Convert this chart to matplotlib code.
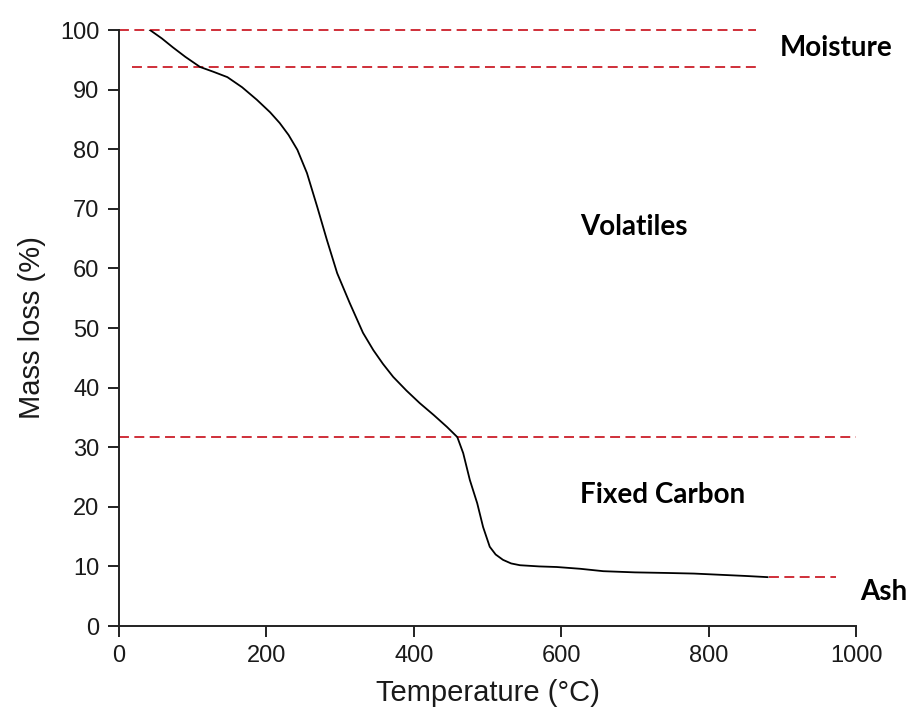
import numpy as np
import matplotlib
matplotlib.use("Agg")
import matplotlib.pyplot as plt

# TGA curve
temp = [42, 58, 73, 90, 110, 128, 147, 167, 187, 205, 218, 230, 242, 255, 269,
        282, 296, 313, 331, 345, 358, 372, 390, 408, 427, 445, 459, 467, 476,
        486, 494, 503, 511, 521, 532, 544, 570, 594, 626, 657, 700, 744, 780,
        815, 850, 880]
mass = [100, 98.6, 97.1, 95.5, 93.8, 93.0, 92.1, 90.4, 88.3, 86.2, 84.4, 82.4,
        79.9, 76.0, 70.3, 64.8, 59.2, 54.2, 49.2, 46.3, 44.0, 41.8, 39.5, 37.4,
        35.4, 33.4, 31.7, 29.0, 24.5, 20.6, 16.6, 13.3, 12.0, 11.1, 10.5, 10.2,
        10.0, 9.9, 9.6, 9.2, 9.0, 8.9, 8.8, 8.6, 8.4, 8.2]

# stage boundaries (y, xstart, xend)
bound_y = [100, 93.8, 31.7, 8.2]
bound_x0 = [0, 18, 0, 882]
bound_x1 = [864, 864, 1000, 973]

labels = ["Moisture", "Volatiles", "Fixed Carbon", "Ash"]
label_x = [973, 698, 737, 1037]
label_y = [97.0, 66.9, 22.0, 5.7]

xticks = [0, 200, 400, 600, 800, 1000]
yticks = [0, 10, 20, 30, 40, 50, 60, 70, 80, 90, 100]

fig = plt.figure(figsize=(9.10, 7.17), dpi=100)
ax = fig.add_axes([0.1308, 0.1269, 0.8099, 0.8312])

ax.plot(temp, mass, color="black", lw=1.3, zorder=3)

for y, a, b in zip(bound_y, bound_x0, bound_x1):
    ax.plot([a, b], [y, y], color="#cc1f2a", lw=1.3, dashes=(5.5, 3),
            clip_on=False, zorder=2)

for t, x, y in zip(labels, label_x, label_y):
    ax.text(x, y, t, ha="center", va="center", fontsize=20, fontweight="bold",
            family="Lato", color="black", clip_on=False)

ax.set_xlim(0, 1000)
ax.set_ylim(0, 100)
ax.set_xticks(xticks)
ax.set_yticks(yticks)

for s in ["top", "right"]:
    ax.spines[s].set_visible(False)
for s in ["left", "bottom"]:
    ax.spines[s].set_linewidth(1.4)
    ax.spines[s].set_color("#222222")

ax.tick_params(direction="out", length=8, width=1.4, color="#222222",
               labelsize=17, labelcolor="#1a1a1a", pad=6)
for lab in ax.get_xticklabels() + ax.get_yticklabels():
    lab.set_family("Liberation Sans")

ax.set_xlabel("Temperature (°C)", fontsize=21, family="Liberation Sans",
              color="#1a1a1a", labelpad=8)
ax.set_ylabel("Mass loss (%)", fontsize=21, family="Liberation Sans",
              color="#1a1a1a", labelpad=10)

fig.savefig("out.png", dpi=100)
